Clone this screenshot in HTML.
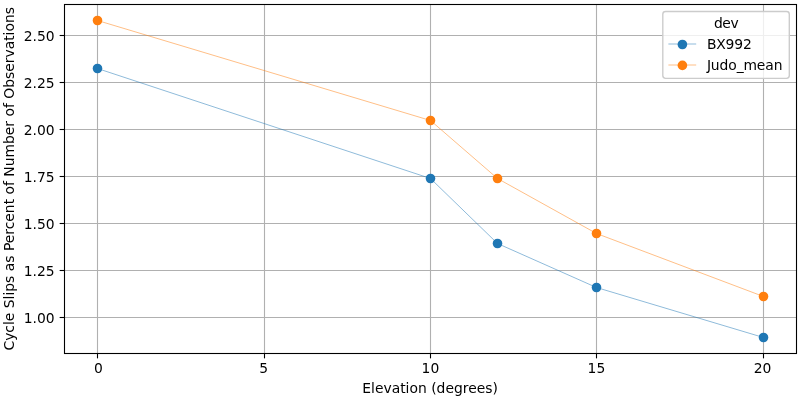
<!DOCTYPE html>
<html lang="en"><head><meta charset="utf-8"><title>Cycle Slips vs Elevation</title>
<style>html,body{margin:0;padding:0;background:#fff;overflow:hidden}svg{display:block;will-change:transform}text{font-family:"DejaVu Sans","Liberation Sans",sans-serif;font-size:13.89px;fill:#000}</style></head><body>
<svg width="800" height="400" viewBox="0 0 800 400">
<rect width="800" height="400" fill="#fff"/>
<g stroke="#b0b0b0" stroke-width="1.1" fill="none">
<line x1="97.5" y1="4.5" x2="97.5" y2="353.5"/>
<line x1="264.5" y1="4.5" x2="264.5" y2="353.5"/>
<line x1="430.5" y1="4.5" x2="430.5" y2="353.5"/>
<line x1="596.5" y1="4.5" x2="596.5" y2="353.5"/>
<line x1="763.5" y1="4.5" x2="763.5" y2="353.5"/>
<line x1="64.5" y1="35.5" x2="796.5" y2="35.5"/>
<line x1="64.5" y1="82.5" x2="796.5" y2="82.5"/>
<line x1="64.5" y1="129.5" x2="796.5" y2="129.5"/>
<line x1="64.5" y1="176.5" x2="796.5" y2="176.5"/>
<line x1="64.5" y1="223.5" x2="796.5" y2="223.5"/>
<line x1="64.5" y1="270.5" x2="796.5" y2="270.5"/>
<line x1="64.5" y1="317.5" x2="796.5" y2="317.5"/>
</g>
<g stroke="#000" stroke-width="1.1" fill="none">
<line x1="97.5" y1="353.5" x2="97.5" y2="358.36"/>
<line x1="264.5" y1="353.5" x2="264.5" y2="358.36"/>
<line x1="430.5" y1="353.5" x2="430.5" y2="358.36"/>
<line x1="596.5" y1="353.5" x2="596.5" y2="358.36"/>
<line x1="763.5" y1="353.5" x2="763.5" y2="358.36"/>
<line x1="59.64" y1="35.5" x2="64.5" y2="35.5"/>
<line x1="59.64" y1="82.5" x2="64.5" y2="82.5"/>
<line x1="59.64" y1="129.5" x2="64.5" y2="129.5"/>
<line x1="59.64" y1="176.5" x2="64.5" y2="176.5"/>
<line x1="59.64" y1="223.5" x2="64.5" y2="223.5"/>
<line x1="59.64" y1="270.5" x2="64.5" y2="270.5"/>
<line x1="59.64" y1="317.5" x2="64.5" y2="317.5"/>
</g>
<polyline points="97.5,68.5 430.5,178.5 497.5,243.5 596.5,287.5 763.5,337.5" fill="none" stroke="#1f77b4" stroke-width="0.5"/>
<polyline points="97.5,20.5 430.5,120.5 497.5,178.5 596.5,233.5 763.5,296.5" fill="none" stroke="#ff7f0e" stroke-width="0.5"/>
<circle cx="97.5" cy="68.5" r="4.8" fill="#1f77b4"/>
<circle cx="430.5" cy="178.5" r="4.8" fill="#1f77b4"/>
<circle cx="497.5" cy="243.5" r="4.8" fill="#1f77b4"/>
<circle cx="596.5" cy="287.5" r="4.8" fill="#1f77b4"/>
<circle cx="763.5" cy="337.5" r="4.8" fill="#1f77b4"/>
<circle cx="97.5" cy="20.5" r="4.8" fill="#ff7f0e"/>
<circle cx="430.5" cy="120.5" r="4.8" fill="#ff7f0e"/>
<circle cx="497.5" cy="178.5" r="4.8" fill="#ff7f0e"/>
<circle cx="596.5" cy="233.5" r="4.8" fill="#ff7f0e"/>
<circle cx="763.5" cy="296.5" r="4.8" fill="#ff7f0e"/>
<rect x="64.5" y="4.5" width="732.0" height="349.0" fill="none" stroke="#000" stroke-width="1.1"/>
<text x="98.4" y="372.8" text-anchor="middle">0</text>
<text x="263.6" y="372.8" text-anchor="middle">5</text>
<text x="430.4" y="372.8" text-anchor="middle">10</text>
<text x="596.4" y="372.8" text-anchor="middle">15</text>
<text x="762.6" y="372.8" text-anchor="middle">20</text>
<text x="54.6" y="40.7" text-anchor="end">2.50</text>
<text x="54.6" y="87.7" text-anchor="end">2.25</text>
<text x="54.6" y="134.7" text-anchor="end">2.00</text>
<text x="54.6" y="181.7" text-anchor="end">1.75</text>
<text x="54.6" y="228.7" text-anchor="end">1.50</text>
<text x="54.6" y="275.7" text-anchor="end">1.25</text>
<text x="54.6" y="322.7" text-anchor="end">1.00</text>
<text x="430.1" y="393" text-anchor="middle">Elevation (degrees)</text>
<text transform="translate(14.3,178.8) rotate(-90)" text-anchor="middle">Cycle Slips as Percent of Number of Observations</text>
<rect x="662.8" y="11.5" width="126.5" height="66.9" rx="2.8" ry="2.8" fill="#fff" fill-opacity="0.8" stroke="#ccc" stroke-width="1.39"/>
<text x="713.9" y="27.5" style="letter-spacing:-0.4px">dev</text>
<line x1="668.4" y1="44.0" x2="696.2" y2="44.0" stroke="#1f77b4" stroke-width="0.5"/>
<circle cx="682.4" cy="44.5" r="4.8" fill="#1f77b4"/>
<text x="706.9" y="49.3" style="letter-spacing:-0.17px">BX992</text>
<line x1="668.4" y1="65.0" x2="696.2" y2="65.0" stroke="#ff7f0e" stroke-width="0.5"/>
<circle cx="682.4" cy="65.4" r="4.8" fill="#ff7f0e"/>
<text x="706.9" y="70.3" style="letter-spacing:-0.11px">Judo_mean</text>
</svg></body></html>
